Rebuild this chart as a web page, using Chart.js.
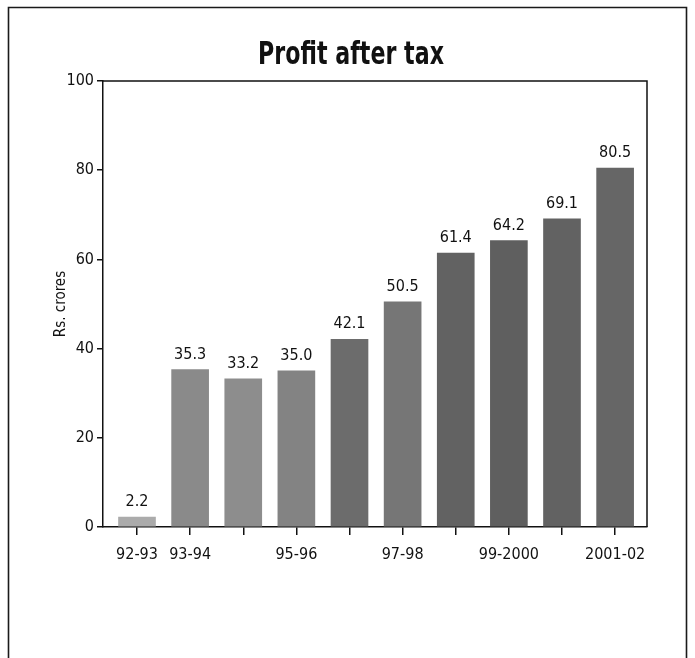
<!DOCTYPE html>
<html>
<head>
<meta charset="utf-8">
<script src="https://cdn.jsdelivr.net/npm/chart.js@4/dist/chart.umd.min.js"></script>
<style>
  html, body { margin: 0; padding: 0; background: #fff; }
  #wrap { position: relative; width: 695px; height: 658px; }
</style>
</head>
<body>
<div id="wrap"><canvas id="c" width="695" height="658"></canvas></div>
<script>
// Financial years
const years = ['92-93', '93-94', '94-95', '95-96', '96-97', '97-98', '98-99', '99-2000', '2000-01', '2001-02'];
// Profit after tax, Rs. crores
const profit = [2.2, 35.3, 33.2, 35.0, 42.1, 50.5, 61.4, 64.2, 69.1, 80.5];
// Axis labels printed under the bars (every other year after 93-94)
const xTickLabels = ['92-93', '93-94', '', '95-96', '', '97-98', '', '99-2000', '', '2001-02'];
const yTicks = [0, 20, 40, 60, 80, 100];
const chartTitle = 'Profit after tax';

const barShades = ['#ababab', '#8a8a8a', '#8d8d8d', '#838383', '#6c6c6c', '#767676', '#626262', '#5f5f5f', '#626262', '#666666'];

const FONT = '"Liberation Sans Narrow", "DejaVu Sans Condensed", "Roboto Condensed", "Liberation Sans", sans-serif';

// Plot frame (top and right edges), the outer panel box and the heading
const framePlugin = {
  id: 'frame',
  beforeDraw(chart) {
    const ctx = chart.ctx;
    ctx.save();
    ctx.strokeStyle = '#1a1a1a';
    ctx.lineWidth = 1.6;
    ctx.beginPath();
    ctx.moveTo(8.5, 658);
    ctx.lineTo(8.5, 7.5);
    ctx.lineTo(686.5, 7.5);
    ctx.lineTo(686.5, 658);
    ctx.stroke();

    // condensed bold heading
    ctx.font = 'bold 32px ' + FONT;
    ctx.fillStyle = '#111';
    ctx.textAlign = 'center';
    ctx.textBaseline = 'middle';
    ctx.translate(351, 56);
    ctx.scale(0.77, 1);
    ctx.fillText(chartTitle, 0, 0);
    ctx.restore();
  },
  afterDraw(chart) {
    const {ctx, chartArea: a} = chart;
    ctx.save();
    ctx.strokeStyle = '#111';
    ctx.lineWidth = 1.5;
    ctx.beginPath();
    ctx.moveTo(a.left, a.top);
    ctx.lineTo(a.right, a.top);
    ctx.lineTo(a.right, a.bottom);
    ctx.stroke();
    ctx.restore();
  }
};

// Value printed above each bar
const valueLabels = {
  id: 'valueLabels',
  afterDatasetsDraw(chart) {
    const ctx = chart.ctx;
    const meta = chart.getDatasetMeta(0);
    ctx.save();
    ctx.font = '16px ' + FONT;
    ctx.fillStyle = '#111';
    ctx.textAlign = 'center';
    ctx.textBaseline = 'bottom';
    meta.data.forEach((bar, i) => {
      ctx.fillText(profit[i].toFixed(1), bar.x, bar.y - 7);
    });
    ctx.restore();
  }
};

new Chart(document.getElementById('c'), {
  type: 'bar',
  data: {
    datasets: [{
      label: chartTitle,
      data: profit.map((v, i) => ({x: i, y: v})),
      backgroundColor: barShades,
      borderWidth: 0,
      barThickness: 37
    }]
  },
  options: {
    responsive: false,
    animation: false,
    devicePixelRatio: 1,
    layout: { padding: { left: 0, right: 48, top: 81, bottom: 91 } },
    plugins: {
      legend: { display: false },
      tooltip: { enabled: false },
      title: { display: false }
    },
    scales: {
      x: {
        type: 'linear',
        offset: false,
        min: -0.64,
        max: 9.6,
        afterBuildTicks(scale) {
          scale.ticks = years.map((_, i) => ({value: i}));
        },
        afterFit(scale) { scale.height = 40; },
        grid: { offset: false, drawOnChartArea: false, drawTicks: true, tickLength: 8, color: '#111', lineWidth: 1.5 },
        border: { display: true, color: '#111', width: 1.5 },
        ticks: {
          autoSkip: false,
          maxRotation: 0,
          padding: 10,
          color: '#111',
          font: { family: FONT, size: 16 },
          callback: (v) => xTickLabels[v] ?? ''
        }
      },
      y: {
        min: 0,
        max: 100,
        afterBuildTicks(scale) {
          scale.ticks = yTicks.map(v => ({value: v}));
        },
        afterFit(scale) { scale.width = 103; },
        grid: { drawOnChartArea: false, drawTicks: true, tickLength: 6, color: '#111', lineWidth: 1.5 },
        border: { display: true, color: '#111', width: 1.5 },
        ticks: {
          padding: 3,
          color: '#111',
          font: { family: FONT, size: 16 }
        },
        title: {
          display: true,
          text: 'Rs. crores',
          color: '#111',
          font: { family: FONT, size: 15 },
          padding: { top: 52, bottom: 0 }
        }
      }
    }
  },
  plugins: [framePlugin, valueLabels]
});
</script>
</body>
</html>
